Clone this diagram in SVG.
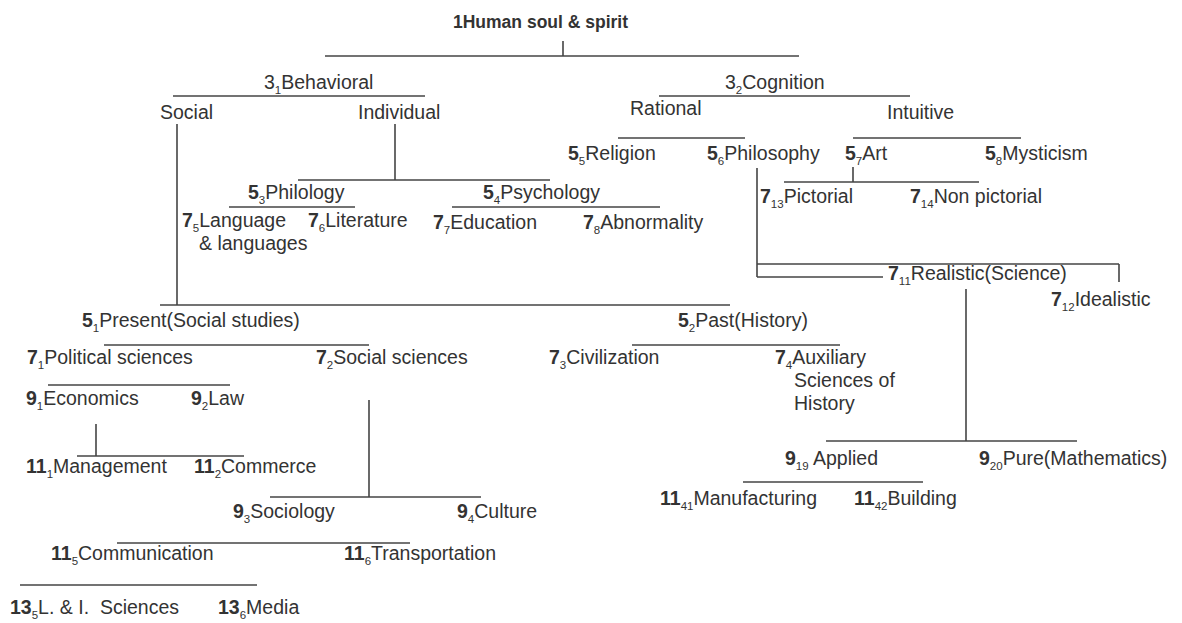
<svg xmlns="http://www.w3.org/2000/svg" width="1182" height="623" viewBox="0 0 1182 623">
<style>
text{font-family:"Liberation Sans",Arial,sans-serif;font-size:19.5px;fill:#333}
.t{font-weight:bold;font-size:17.5px}
.n{font-weight:bold}
.s{font-size:11.5px}
.c line{stroke:#444;stroke-width:1.6}
</style>
<rect width="1182" height="623" fill="#fff"/>
<g class="c" id="connectors">
<line x1="563" y1="41" x2="563" y2="56" stroke-width="2.4"/>
<line x1="325" y1="56" x2="799" y2="56"/>
<line x1="173" y1="96" x2="425" y2="96"/>
<line x1="659" y1="96" x2="910" y2="96"/>
<line x1="177" y1="124" x2="177" y2="305"/>
<line x1="395" y1="124" x2="395" y2="180"/>
<line x1="618" y1="138" x2="745" y2="138"/>
<line x1="853" y1="138" x2="1021" y2="138"/>
<line x1="298" y1="180" x2="550" y2="180"/>
<line x1="229" y1="207" x2="355" y2="207"/>
<line x1="452" y1="207" x2="660" y2="207"/>
<line x1="853" y1="167" x2="853" y2="182"/>
<line x1="784" y1="182" x2="979" y2="182"/>
<line x1="757" y1="168" x2="757" y2="277"/>
<line x1="757" y1="264" x2="1119" y2="264"/>
<line x1="1119" y1="264" x2="1119" y2="282"/>
<line x1="757" y1="277" x2="883" y2="277"/>
<line x1="966" y1="289" x2="966" y2="441"/>
<line x1="160" y1="305" x2="730" y2="305"/>
<line x1="104" y1="345" x2="369" y2="345"/>
<line x1="632" y1="345" x2="840" y2="345"/>
<line x1="48" y1="385" x2="230" y2="385"/>
<line x1="96" y1="424" x2="96" y2="456"/>
<line x1="77" y1="456" x2="244" y2="456"/>
<line x1="369" y1="400" x2="369" y2="497"/>
<line x1="270" y1="497" x2="481" y2="497"/>
<line x1="117" y1="543" x2="410" y2="543"/>
<line x1="20" y1="585" x2="257" y2="585"/>
<line x1="826" y1="441" x2="1077" y2="441"/>
<line x1="743" y1="482" x2="923" y2="482"/>
</g>
<g id="n1"><text class="t" x="453" y="28">1Human soul &amp; spirit</text></g>
<g id="n3_1"><text x="264" y="89">3<tspan class="s" dy="5">1</tspan><tspan dy="-5">Behavioral</tspan></text></g>
<g id="n3_2"><text x="725" y="89">3<tspan class="s" dy="5">2</tspan><tspan dy="-5">Cognition</tspan></text></g>
<g id="social"><text x="160" y="119">Social</text></g>
<g id="individual"><text x="358" y="119">Individual</text></g>
<g id="rational"><text x="630" y="115">Rational</text></g>
<g id="intuitive"><text x="887" y="119">Intuitive</text></g>
<g id="n5_5"><text x="568" y="160"><tspan class="n">5</tspan><tspan class="s" dy="5">5</tspan><tspan dy="-5">Religion</tspan></text></g>
<g id="n5_6"><text x="707" y="160"><tspan class="n">5</tspan><tspan class="s" dy="5">6</tspan><tspan dy="-5">Philosophy</tspan></text></g>
<g id="n5_7"><text x="845" y="160"><tspan class="n">5</tspan><tspan class="s" dy="5">7</tspan><tspan dy="-5">Art</tspan></text></g>
<g id="n5_8"><text x="985" y="160"><tspan class="n">5</tspan><tspan class="s" dy="5">8</tspan><tspan dy="-5">Mysticism</tspan></text></g>
<g id="n5_3"><text x="248" y="199"><tspan class="n">5</tspan><tspan class="s" dy="5">3</tspan><tspan dy="-5">Philology</tspan></text></g>
<g id="n5_4"><text x="483" y="199"><tspan class="n">5</tspan><tspan class="s" dy="5">4</tspan><tspan dy="-5">Psychology</tspan></text></g>
<g id="n7_5"><text x="182" y="227"><tspan class="n">7</tspan><tspan class="s" dy="5">5</tspan><tspan dy="-5">Language</tspan></text><text x="199" y="250">&amp; languages</text></g>
<g id="n7_6"><text x="308" y="227"><tspan class="n">7</tspan><tspan class="s" dy="5">6</tspan><tspan dy="-5">Literature</tspan></text></g>
<g id="n7_7"><text x="433" y="229"><tspan class="n">7</tspan><tspan class="s" dy="5">7</tspan><tspan dy="-5">Education</tspan></text></g>
<g id="n7_8"><text x="583" y="229"><tspan class="n">7</tspan><tspan class="s" dy="5">8</tspan><tspan dy="-5">Abnormality</tspan></text></g>
<g id="n7_13"><text x="760" y="203"><tspan class="n">7</tspan><tspan class="s" dy="5">13</tspan><tspan dy="-5">Pictorial</tspan></text></g>
<g id="n7_14"><text x="910" y="203"><tspan class="n">7</tspan><tspan class="s" dy="5">14</tspan><tspan dy="-5">Non pictorial</tspan></text></g>
<g id="n7_11"><text x="888" y="280"><tspan class="n">7</tspan><tspan class="s" dy="5">11</tspan><tspan dy="-5">Realistic(Science)</tspan></text></g>
<g id="n7_12"><text x="1051" y="306"><tspan class="n">7</tspan><tspan class="s" dy="5">12</tspan><tspan dy="-5">Idealistic</tspan></text></g>
<g id="n5_1"><text x="82" y="327"><tspan class="n">5</tspan><tspan class="s" dy="5">1</tspan><tspan dy="-5">Present(Social studies)</tspan></text></g>
<g id="n5_2"><text x="678" y="327"><tspan class="n">5</tspan><tspan class="s" dy="5">2</tspan><tspan dy="-5">Past(History)</tspan></text></g>
<g id="n7_1"><text x="27" y="364"><tspan class="n">7</tspan><tspan class="s" dy="5">1</tspan><tspan dy="-5">Political sciences</tspan></text></g>
<g id="n7_2"><text x="316" y="364"><tspan class="n">7</tspan><tspan class="s" dy="5">2</tspan><tspan dy="-5">Social sciences</tspan></text></g>
<g id="n7_3"><text x="549" y="364"><tspan class="n">7</tspan><tspan class="s" dy="5">3</tspan><tspan dy="-5">Civilization</tspan></text></g>
<g id="n7_4"><text x="775" y="364"><tspan class="n">7</tspan><tspan class="s" dy="5">4</tspan><tspan dy="-5">Auxiliary</tspan></text><text x="794" y="387">Sciences of</text><text x="794" y="410">History</text></g>
<g id="n9_1"><text x="26" y="405"><tspan class="n">9</tspan><tspan class="s" dy="5">1</tspan><tspan dy="-5">Economics</tspan></text></g>
<g id="n9_2"><text x="191" y="405"><tspan class="n">9</tspan><tspan class="s" dy="5">2</tspan><tspan dy="-5">Law</tspan></text></g>
<g id="n11_1"><text x="26" y="473"><tspan class="n">11</tspan><tspan class="s" dy="5">1</tspan><tspan dy="-5">Management</tspan></text></g>
<g id="n11_2"><text x="194" y="473"><tspan class="n">11</tspan><tspan class="s" dy="5">2</tspan><tspan dy="-5">Commerce</tspan></text></g>
<g id="n9_3"><text x="233" y="518"><tspan class="n">9</tspan><tspan class="s" dy="5">3</tspan><tspan dy="-5">Sociology</tspan></text></g>
<g id="n9_4"><text x="457" y="518"><tspan class="n">9</tspan><tspan class="s" dy="5">4</tspan><tspan dy="-5">Culture</tspan></text></g>
<g id="n11_5"><text x="51" y="560"><tspan class="n">11</tspan><tspan class="s" dy="5">5</tspan><tspan dy="-5">Communication</tspan></text></g>
<g id="n11_6"><text x="344" y="560"><tspan class="n">11</tspan><tspan class="s" dy="5">6</tspan><tspan dy="-5">Transportation</tspan></text></g>
<g id="n13_5"><text x="10" y="614"><tspan class="n">13</tspan><tspan class="s" dy="5">5</tspan><tspan dy="-5" xml:space="preserve">L. &amp; I.  Sciences</tspan></text></g>
<g id="n13_6"><text x="218" y="614"><tspan class="n">13</tspan><tspan class="s" dy="5">6</tspan><tspan dy="-5">Media</tspan></text></g>
<g id="n9_19"><text x="785" y="465"><tspan class="n">9</tspan><tspan class="s" dy="5">19</tspan><tspan dy="-5"> Applied</tspan></text></g>
<g id="n9_20"><text x="979" y="465"><tspan class="n">9</tspan><tspan class="s" dy="5">20</tspan><tspan dy="-5">Pure(Mathematics)</tspan></text></g>
<g id="n11_41"><text x="660" y="505"><tspan class="n">11</tspan><tspan class="s" dy="5">41</tspan><tspan dy="-5">Manufacturing</tspan></text></g>
<g id="n11_42"><text x="854" y="505"><tspan class="n">11</tspan><tspan class="s" dy="5">42</tspan><tspan dy="-5">Building</tspan></text></g>
</svg>
